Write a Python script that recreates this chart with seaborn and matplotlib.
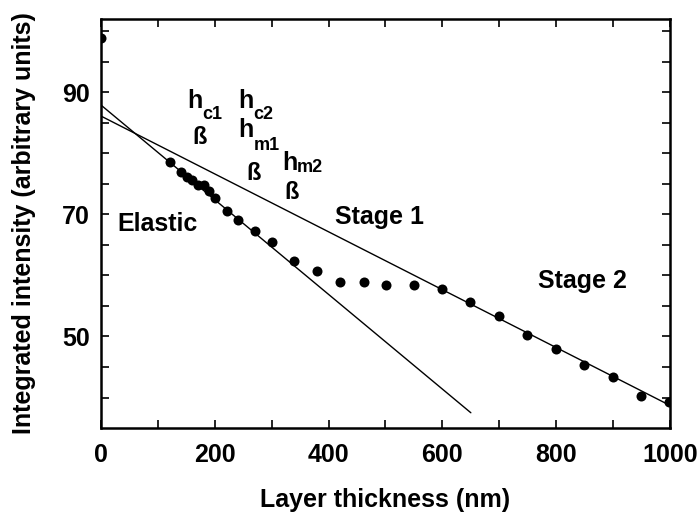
import numpy as np
import pandas as pd
import seaborn as sns
import matplotlib.pyplot as plt

# measured points
thickness = [0, 121, 141, 151, 160, 170, 181, 190, 200, 221, 241, 271, 301, 339,
             380, 420, 462, 501, 550, 599, 649, 699, 749, 800, 849, 900, 949, 998]
intensity = [98.9, 78.5, 77.0, 76.2, 75.7, 74.8, 74.8, 73.9, 72.6, 70.5, 69.0, 67.2,
             65.4, 62.3, 60.7, 58.9, 58.9, 58.5, 58.5, 57.7, 55.6, 53.4, 50.2, 48.0,
             45.4, 43.3, 40.2, 39.3]

# fitted lines
elastic_x = [0, 650]
elastic_y = [87.9, 37.5]
stage_x = [0, 1000]
stage_y = [86.1, 38.7]

x_ticks = [0, 100, 200, 300, 400, 500, 600, 700, 800, 900, 1000]
x_labels = ['0', '', '200', '', '400', '', '600', '', '800', '', '1000']
y_ticks = [40, 45, 50, 55, 60, 65, 70, 75, 80, 85, 90, 95, 100]
y_labels = ['', '', '50', '', '', '', '70', '', '', '', '90', '', '']

sns.set_theme(style='ticks')
plt.rcParams['font.family'] = ['Liberation Sans', 'DejaVu Sans']
plt.rcParams['font.weight'] = 'bold'
for k in ['text.color', 'axes.labelcolor', 'xtick.color', 'ytick.color', 'axes.edgecolor']:
    plt.rcParams[k] = 'black'

df = pd.DataFrame({'thickness': thickness, 'intensity': intensity})

fig = plt.figure(figsize=(6.99, 5.18), dpi=100)
ax = fig.add_axes([0.1445, 0.1737, 0.814, 0.7896])

sns.lineplot(x=elastic_x, y=elastic_y, color='black', linewidth=1.0, ax=ax)
sns.lineplot(x=stage_x, y=stage_y, color='black', linewidth=1.0, ax=ax)
sns.scatterplot(data=df, x='thickness', y='intensity', color='black', s=52,
                edgecolor='black', linewidth=0, ax=ax, zorder=3)

ax.set_xlim(0, 1000)
ax.set_ylim(35, 102)
ax.set_xticks(x_ticks)
ax.set_xticklabels(x_labels)
ax.set_yticks(y_ticks)
ax.set_yticklabels(y_labels)
ax.tick_params(direction='in', length=6, width=1.2, labelsize=18,
               top=True, right=True)
ax.tick_params(axis='x', pad=11)
ax.tick_params(axis='y', pad=8)
for s in ax.spines.values():
    s.set_visible(True)
    s.set_linewidth(1.8)

ax.set_xlabel('Layer thickness (nm)', fontsize=18, fontweight='bold', labelpad=15)
ax.set_ylabel('Integrated intensity (arbitrary units)', fontsize=18,
              fontweight='bold', labelpad=19)

# h labels with subscripts
for main, sub, x, y, dx, dy in [('h', 'c1', 151, 87.5, 11.0, -7.9),
                                ('h', 'c2', 241, 87.5, 11.0, -7.9),
                                ('h', 'm1', 241, 82.6, 11.5, -9.4),
                                ('h', 'm2', 318, 77.2, 11.0, -1.5)]:
    ax.text(x, y, main, fontsize=18, fontweight='bold', ha='left', va='baseline')
    ax.annotate(sub, xy=(x, y), xytext=(dx, dy), textcoords='offset points',
                fontsize=13, fontweight='bold', ha='left', va='baseline')

for x, y in [(160, 81.5), (256, 75.6), (323, 72.5)]:
    ax.text(x, y, 'ß', fontsize=17, fontweight='bold', ha='left', va='baseline')

ax.text(28, 67.3, 'Elastic', fontsize=18, fontweight='bold', va='baseline')
ax.text(411, 68.4, 'Stage 1', fontsize=18, fontweight='bold', va='baseline')
ax.text(768, 58.0, 'Stage 2', fontsize=18, fontweight='bold', va='baseline')

plt.savefig('out.png', dpi=100)
